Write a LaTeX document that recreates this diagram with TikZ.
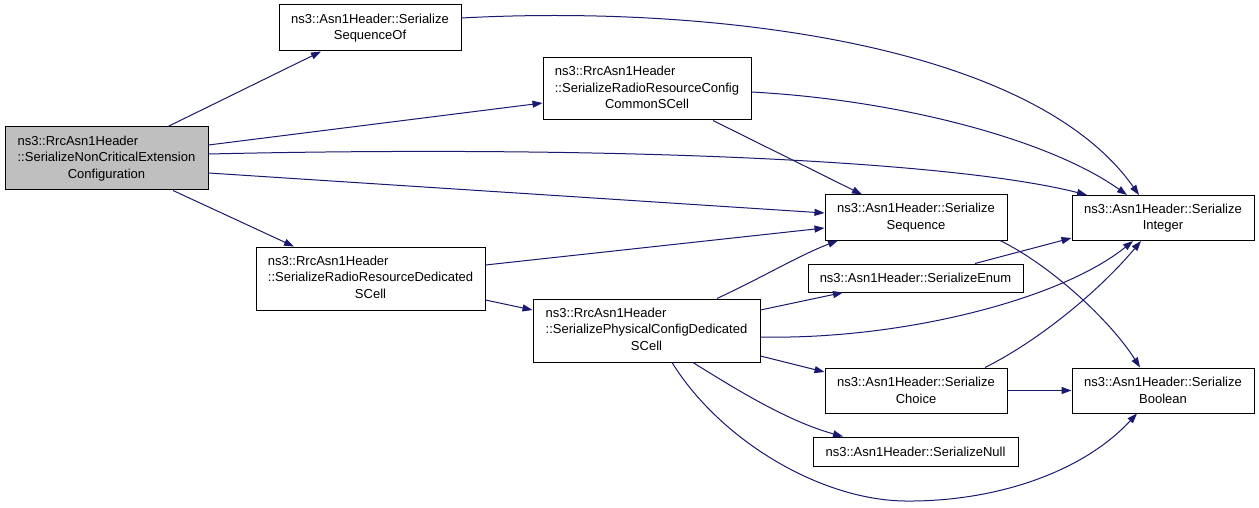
\documentclass[tikz,border=0pt]{standalone}
\usepackage{fontspec}
\setmainfont{Liberation Sans}
\usetikzlibrary{arrows.meta}
\definecolor{edgecol}{HTML}{191970}
\definecolor{hlgray}{HTML}{BFBFBF}
\newcommand\lbl{\fontsize{13}{16.5}\selectfont}
\newcommand\threel[3]{\begin{tabular}{@{}c@{}}\multicolumn{1}{@{}l@{}}{#1}\\#2\\#3\end{tabular}}
\tikzset{
  box/.style={draw=black, line width=1pt, fill=white, inner sep=0pt, font=\lbl, align=center},
  edge/.style={draw=edgecol, line width=1pt, -{Triangle[length=10pt,width=7pt]}}
}
\begin{document}
\begin{tikzpicture}[x=1pt,y=-1pt]
\useasboundingbox[fill=white] (0,0) rectangle (1259,508);
% nodes
\node[box, fill=hlgray, minimum width=203pt, minimum height=63pt] (A) at (106.5,158.5)
  {\threel{ns3::RrcAsn1Header}{::SerializeNonCriticalExtension}{Configuration}};
\node[box, minimum width=182pt, minimum height=46pt] (B) at (370,28)
  {ns3::Asn1Header::Serialize\\SequenceOf};
\node[box, minimum width=208pt, minimum height=62pt] (C) at (647,89)
  {\threel{ns3::RrcAsn1Header}{::SerializeRadioResourceConfig}{CommonSCell}};
\node[box, minimum width=182pt, minimum height=45pt] (D) at (916,217.5)
  {ns3::Asn1Header::Serialize\\Sequence};
\node[box, minimum width=182pt, minimum height=45pt] (E) at (1163,218)
  {ns3::Asn1Header::Serialize\\Integer};
\node[box, minimum width=229pt, minimum height=63pt] (F) at (370.5,278.5)
  {\threel{ns3::RrcAsn1Header}{::SerializeRadioResourceDedicated}{SCell}};
\node[box, minimum width=227pt, minimum height=63pt] (G) at (646.5,330.5)
  {\threel{ns3::RrcAsn1Header}{::SerializePhysicalConfigDedicated}{SCell}};
\node[box, minimum width=215pt, minimum height=28pt] (H) at (915.5,278)
  {ns3::Asn1Header::SerializeEnum};
\node[box, minimum width=182pt, minimum height=45pt] (I) at (916,390.5)
  {ns3::Asn1Header::Serialize\\Choice};
\node[box, minimum width=182pt, minimum height=45pt] (J) at (1163,390.5)
  {ns3::Asn1Header::Serialize\\Boolean};
\node[box, minimum width=205pt, minimum height=29pt] (K) at (915.5,451.5)
  {ns3::Asn1Header::SerializeNull};
% edges
\draw[edge] (A.north -| 168,0) -- (B.south -| 321,0);
\draw[edge] (A.east |- 0,145) -- (C.west |- 0,103);
\draw[edge] (A.east |- 0,154) .. controls (600,145) and (950,160) .. (E.north -| 1087,0);
\draw[edge] (A.east |- 0,173) -- (D.west |- 0,213);
\draw[edge] (A.south -| 173,0) -- (F.north -| 294,0);
\draw[edge] (B.east |- 0,18) .. controls (700,5) and (1030,40) .. (E.north -| 1139,0);
\draw[edge] (C.east |- 0,92) .. controls (900,100) and (1050,140) .. (E.north -| 1127,0);
\draw[edge] (C.south -| 713,0) -- (D.north -| 862,0);
\draw[edge] (F.east |- 0,265) -- (D.west |- 0,228);
\draw[edge] (F.east |- 0,300) -- (G.west |- 0,310);
\draw[edge] (G.north -| 717,0) .. controls (765,276) and (800,255) .. (D.south -| 838,0);
\draw[edge] (G.east |- 0,310) -- (H.south -| 843,0);
\draw[edge] (G.east |- 0,337) .. controls (900,340) and (1060,300) .. (E.south -| 1133,0);
\draw[edge] (G.east |- 0,356) -- (I.west |- 0,372);
\draw[edge] (G.south -| 693,0) .. controls (740,392) and (790,422) .. (K.north -| 843,0);
\draw[edge] (G.south -| 672,0) .. controls (720,440) and (820,500) .. (905,501)
  .. controls (990,502) and (1080,475) .. (J.south -| 1137,0);
\draw[edge] (H.north -| 975,0) -- (E.west |- 0,238);
\draw[edge] (D.south -| 1000,0) .. controls (1050,265) and (1110,320) .. (J.north -| 1140,0);
\draw[edge] (I.north -| 985,0) .. controls (1040,340) and (1100,290) .. (E.south -| 1141,0);
\draw[edge] (I.east) -- (J.west);
\end{tikzpicture}
\end{document}
